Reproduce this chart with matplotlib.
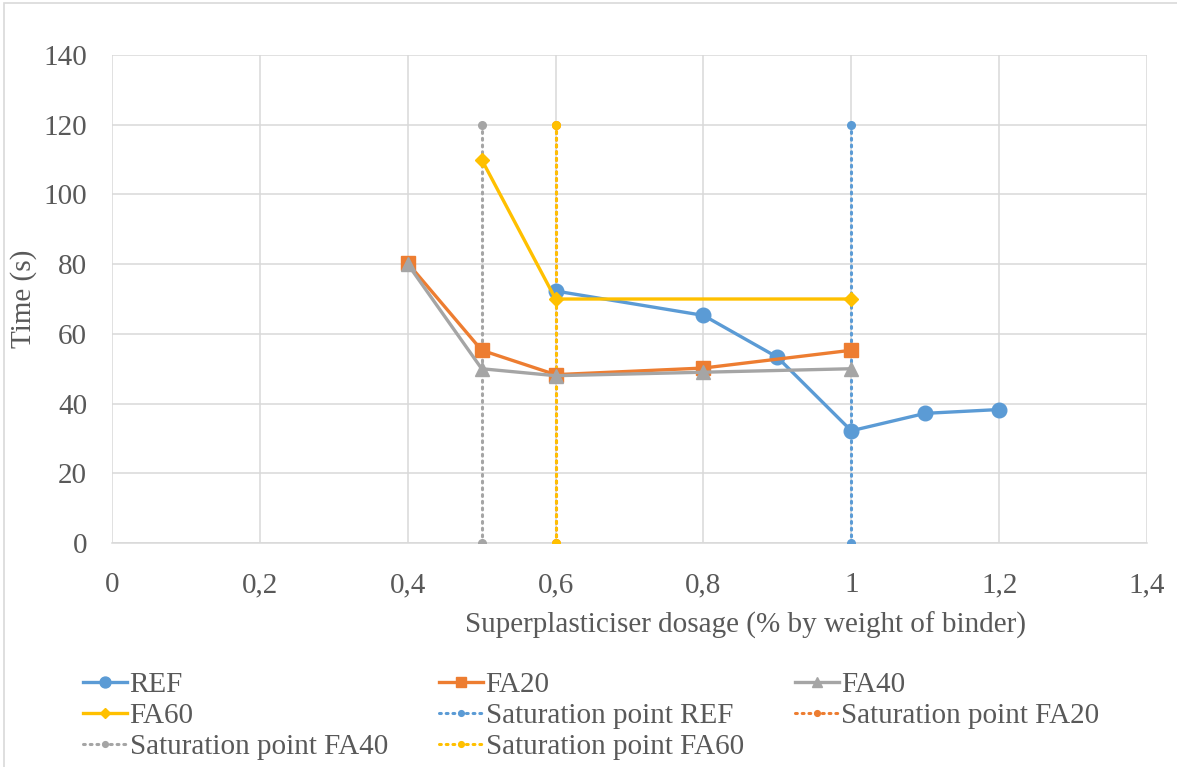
import matplotlib.pyplot as plt
import matplotlib.patches as patches

plt.rcParams['font.family'] = ['Liberation Serif', 'DejaVu Serif']

# --- data
ref_x = [0.6, 0.8, 0.9, 1.0, 1.1, 1.2]
ref_y = [72.3, 65.3, 53.3, 32.2, 37.2, 38.3]

fa20_x = [0.4, 0.5, 0.6, 0.8, 1.0]
fa20_y = [80.3, 55.3, 48.3, 50.2, 55.3]

fa40_x = [0.4, 0.5, 0.6, 0.8, 1.0]
fa40_y = [80.0, 50.0, 48.0, 49.0, 50.0]

fa60_x = [0.5, 0.6, 1.0]
fa60_y = [110.0, 70.0, 70.0]

sat_names = ["REF", "FA20", "FA40", "FA60"]
sat_x = [1.0, 0.6, 0.5, 0.6]
sat_y = [0, 120]

x_ticks = [0, 0.2, 0.4, 0.6, 0.8, 1.0, 1.2, 1.4]
x_tick_labels = ["0", "0,2", "0,4", "0,6", "0,8", "1", "1,2", "1,4"]
y_ticks = [0, 20, 40, 60, 80, 100, 120, 140]

c_ref = "#5B9BD5"
c_fa20 = "#ED7D31"
c_fa40 = "#A5A5A5"
c_fa60 = "#FFC000"
sat_colors = [c_ref, c_fa20, c_fa40, c_fa60]
txt = "#595959"
fs = 21

fig = plt.figure(figsize=(11.77, 7.67), dpi=100)
ax = fig.add_axes([0.0952, 0.292, 0.8793, 0.6363])

# chart-area border (only left/top visible in the reference)
fig.patches.append(patches.Rectangle(
    (4 / 1177, -0.05), 1.1, 1 - 3 / 767 + 0.05, transform=fig.transFigure,
    fill=False, edgecolor="#D9D9D9", lw=1.2, zorder=0))

dot = (0, (0.6, 1.6))
sat_handles = []
for name, x, c in zip(sat_names, sat_x, sat_colors):
    h, = ax.plot([x, x], sat_y, color=c, lw=2.2, ls=dot, dash_capstyle="round",
                 marker="o", ms=5.5, zorder=3,
                 label=f"Saturation point {name}")
    sat_handles.append(h)

h_ref, = ax.plot(ref_x, ref_y, color=c_ref, lw=2.4, marker="o", ms=10.5,
                 zorder=4, label="REF")
h_fa20, = ax.plot(fa20_x, fa20_y, color=c_fa20, lw=2.4, marker="s", ms=9.5,
                  zorder=5, label="FA20")
h_fa40, = ax.plot(fa40_x, fa40_y, color=c_fa40, lw=2.4, marker="^", ms=10,
                  zorder=5, label="FA40")
h_fa60, = ax.plot(fa60_x, fa60_y, color=c_fa60, lw=2.4, marker="D", ms=7,
                  zorder=6, label="FA60")

ax.set_xlim(0, 1.4)
ax.set_ylim(0, 140)
ax.set_xticks(x_ticks)
ax.set_xticklabels(x_tick_labels)
ax.set_yticks(y_ticks)
ax.grid(color="#D9D9D9", lw=1.1)
ax.set_axisbelow(True)
for s in ["top", "right", "left"]:
    ax.spines[s].set_visible(False)
ax.spines["bottom"].set_color("#D9D9D9")
ax.spines["bottom"].set_linewidth(1.1)
ax.tick_params(axis="both", length=0, labelsize=fs, colors=txt)
ax.tick_params(axis="x", pad=21)
ax.tick_params(axis="y", pad=18)

ax.set_xlabel("Superplasticiser dosage (% by weight of binder)",
              fontsize=fs, color=txt)
ax.set_ylabel("Time (s)", fontsize=fs, color=txt)
ax.xaxis.set_label_coords(0.612, -0.141)
ax.yaxis.set_label_coords(-0.073, 0.5)

# legend: matplotlib fills columns, so order to read row-wise
order = [h_ref, h_fa60, sat_handles[2],
         h_fa20, sat_handles[0], sat_handles[3],
         h_fa40, sat_handles[1]]
leg = fig.legend(handles=order, labels=[h.get_label() for h in order],
                 ncol=3, loc="upper left", bbox_to_anchor=(0.0705, 0.124),
                 frameon=False, fontsize=fs, handlelength=1.5,
                 handletextpad=0.1, columnspacing=1.75, labelspacing=0.15,
                 borderpad=0, borderaxespad=0, markerscale=0.75)
for t in leg.get_texts():
    t.set_color(txt)

fig.savefig("out.png", dpi=100, facecolor="white")
